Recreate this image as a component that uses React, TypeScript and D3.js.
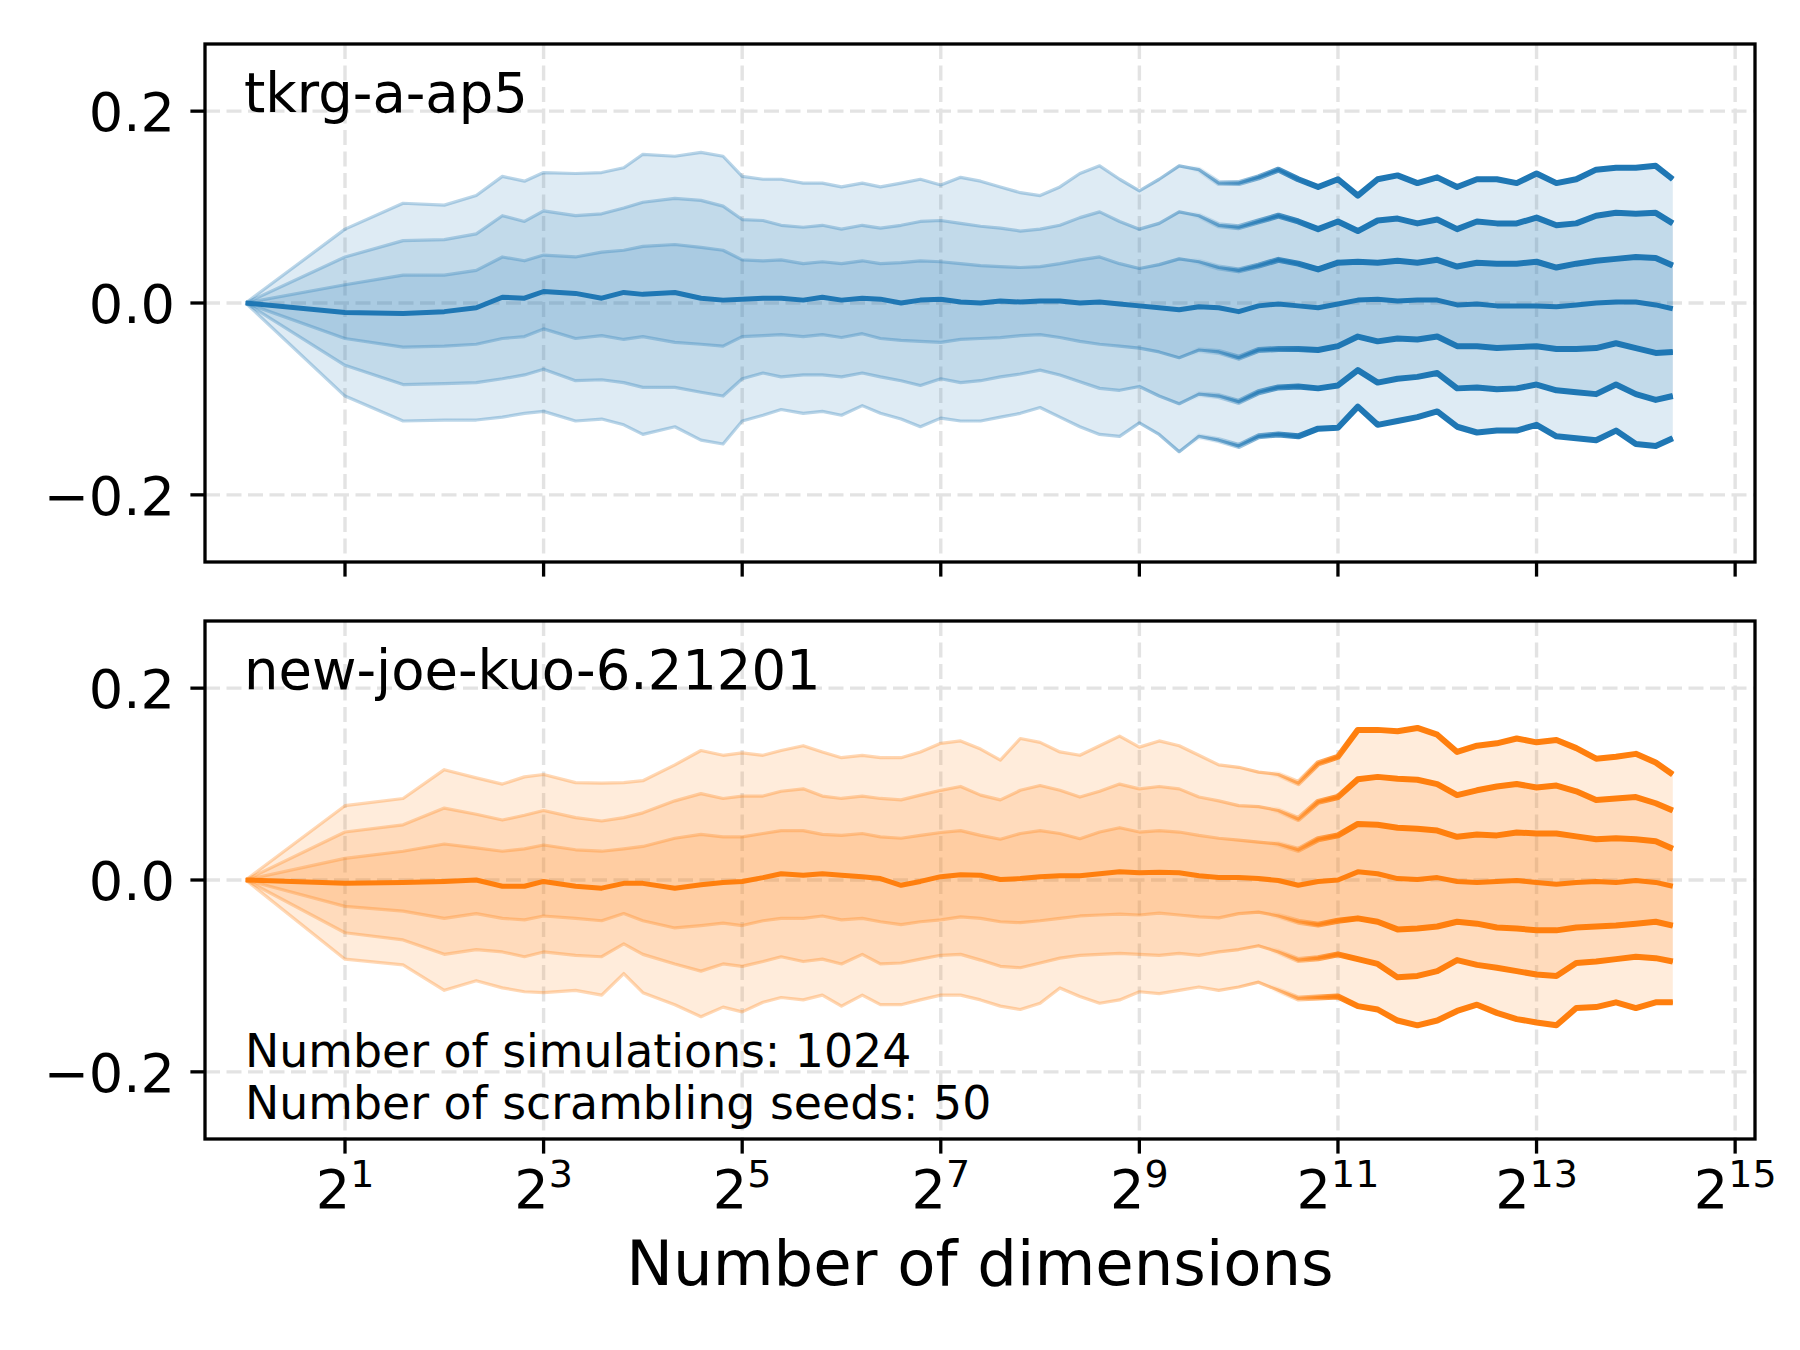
import React from 'react';
import * as d3 from 'd3';

// ---------------- data ----------------
const DIMS = [1, 2, 3, 4, 5, 6, 7, 8, 10, 12, 14, 16, 20, 24, 28, 32,
  37, 42, 49, 56, 64, 74, 84,
  97, 111, 128, 147, 169, 194, 223, 256, 294, 338, 388, 446, 512, 588, 676, 776, 891, 1024, 1176, 1351, 1552, 1783, 2048, 2353, 2702, 3104, 3566, 4096, 4705, 5405, 6208, 7132, 8192, 9410, 10809, 12417, 14263, 16384, 18820,
  21201];

const TKRG_U3 = [0, 0.077, 0.104, 0.102, 0.112, 0.132, 0.127, 0.136, 0.135, 0.136, 0.141, 0.155, 0.153, 0.157, 0.153, 0.132,
  0.129, 0.129, 0.125, 0.125, 0.121, 0.125, 0.121,
  0.125, 0.129, 0.123, 0.131, 0.127, 0.121, 0.115, 0.112, 0.121, 0.135, 0.143, 0.129, 0.117, 0.129, 0.143, 0.139, 0.125, 0.125, 0.131, 0.139, 0.129, 0.121, 0.129, 0.112, 0.129, 0.133, 0.125, 0.131, 0.121, 0.129, 0.129, 0.125, 0.135, 0.125, 0.129, 0.139, 0.141, 0.141, 0.143,
  0.129];
const TKRG_U2 = [0, 0.048, 0.065, 0.066, 0.072, 0.091, 0.085, 0.096, 0.091, 0.093, 0.099, 0.105, 0.109, 0.107, 0.101, 0.087,
  0.086, 0.081, 0.079, 0.081, 0.077, 0.081, 0.078,
  0.081, 0.085, 0.086, 0.083, 0.080, 0.078, 0.075, 0.077, 0.081, 0.089, 0.095, 0.085, 0.077, 0.083, 0.095, 0.091, 0.081, 0.079, 0.085, 0.091, 0.085, 0.077, 0.085, 0.075, 0.086, 0.088, 0.083, 0.087, 0.077, 0.085, 0.083, 0.083, 0.089, 0.081, 0.083, 0.091, 0.094, 0.093, 0.094,
  0.083];
const TKRG_U1 = [0, 0.019, 0.029, 0.029, 0.034, 0.048, 0.044, 0.050, 0.048, 0.053, 0.055, 0.059, 0.061, 0.058, 0.055, 0.045,
  0.044, 0.045, 0.041, 0.043, 0.041, 0.044, 0.041,
  0.042, 0.044, 0.043, 0.041, 0.039, 0.038, 0.037, 0.038, 0.041, 0.045, 0.048, 0.041, 0.036, 0.040, 0.046, 0.043, 0.037, 0.034, 0.039, 0.045, 0.041, 0.035, 0.042, 0.043, 0.042, 0.044, 0.042, 0.045, 0.038, 0.042, 0.041, 0.041, 0.043, 0.037, 0.041, 0.044, 0.046, 0.048, 0.047,
  0.039];
const TKRG_M = [0, -0.010, -0.011, -0.009, -0.005, 0.006, 0.005, 0.012, 0.010, 0.005, 0.011, 0.009, 0.011, 0.005, 0.003, 0.004,
  0.005, 0.005, 0.003, 0.006, 0.003, 0.005, 0.004,
  0.000, 0.003, 0.004, 0.001, 0.000, 0.002, 0.001, 0.002, 0.002, 0.000, 0.001, -0.001, -0.003, -0.005, -0.007, -0.004, -0.005, -0.009, -0.003, -0.001, -0.003, -0.005, -0.001, 0.003, 0.004, 0.002, 0.003, 0.003, -0.002, -0.001, -0.003, -0.003, -0.003, -0.004, -0.002, 0.000, 0.001, 0.001, -0.002,
  -0.006];
const TKRG_D1 = [0, -0.037, -0.046, -0.045, -0.043, -0.037, -0.035, -0.027, -0.037, -0.034, -0.038, -0.035, -0.041, -0.043, -0.045, -0.035,
  -0.034, -0.033, -0.035, -0.033, -0.036, -0.032, -0.037,
  -0.039, -0.040, -0.041, -0.038, -0.037, -0.036, -0.034, -0.033, -0.036, -0.040, -0.043, -0.045, -0.047, -0.051, -0.057, -0.049, -0.051, -0.057, -0.049, -0.048, -0.048, -0.049, -0.045, -0.035, -0.040, -0.037, -0.038, -0.035, -0.045, -0.045, -0.047, -0.046, -0.045, -0.048, -0.048, -0.047, -0.042, -0.047, -0.052,
  -0.051];
const TKRG_D2 = [0, -0.065, -0.085, -0.084, -0.083, -0.079, -0.075, -0.069, -0.081, -0.080, -0.083, -0.088, -0.088, -0.093, -0.097, -0.079,
  -0.073, -0.077, -0.075, -0.075, -0.077, -0.073, -0.077,
  -0.081, -0.086, -0.079, -0.083, -0.081, -0.077, -0.074, -0.070, -0.075, -0.082, -0.089, -0.091, -0.087, -0.097, -0.105, -0.095, -0.097, -0.103, -0.093, -0.088, -0.087, -0.089, -0.086, -0.070, -0.083, -0.079, -0.077, -0.073, -0.089, -0.088, -0.090, -0.089, -0.085, -0.091, -0.093, -0.095, -0.085, -0.095, -0.101,
  -0.097];
const TKRG_D3 = [0, -0.097, -0.123, -0.122, -0.122, -0.119, -0.115, -0.113, -0.123, -0.121, -0.127, -0.137, -0.129, -0.143, -0.147, -0.123,
  -0.117, -0.111, -0.115, -0.113, -0.117, -0.107, -0.115,
  -0.121, -0.129, -0.120, -0.123, -0.123, -0.119, -0.115, -0.109, -0.119, -0.129, -0.137, -0.139, -0.125, -0.137, -0.155, -0.139, -0.143, -0.149, -0.139, -0.137, -0.139, -0.131, -0.130, -0.108, -0.127, -0.123, -0.119, -0.113, -0.129, -0.135, -0.133, -0.133, -0.127, -0.139, -0.141, -0.143, -0.133, -0.147, -0.149,
  -0.141];

const JK_U3 = [0, 0.0775, 0.085, 0.115, 0.1065, 0.100, 0.1075, 0.110, 0.1015, 0.101, 0.1015, 0.1035, 0.120, 0.135, 0.130, 0.1325,
  0.130, 0.135, 0.140, 0.1335, 0.1275, 0.130, 0.1275,
  0.1275, 0.1335, 0.1425, 0.145, 0.1365, 0.125, 0.1475, 0.1435, 0.1335, 0.130, 0.140, 0.150, 0.1385, 0.145, 0.140, 0.130, 0.120, 0.1175, 0.1125, 0.110, 0.101, 0.1215, 0.1285, 0.1565, 0.1565, 0.155, 0.1585, 0.1515, 0.1335, 0.140, 0.1425, 0.1475, 0.1435, 0.146, 0.1375, 0.1265, 0.1285, 0.1315, 0.1225,
  0.110];
const JK_U2 = [0, 0.050, 0.0575, 0.075, 0.0685, 0.0625, 0.0675, 0.0725, 0.065, 0.0615, 0.065, 0.070, 0.0825, 0.090, 0.085, 0.0875,
  0.0875, 0.0925, 0.095, 0.0875, 0.085, 0.0875, 0.085,
  0.0835, 0.0885, 0.0935, 0.0975, 0.0885, 0.0835, 0.0935, 0.0985, 0.0935, 0.0865, 0.0925, 0.100, 0.095, 0.0975, 0.095, 0.0865, 0.0825, 0.0775, 0.0765, 0.0725, 0.0635, 0.0815, 0.0865, 0.105, 0.1075, 0.1055, 0.1045, 0.100, 0.0885, 0.0935, 0.0975, 0.100, 0.0965, 0.0985, 0.0925, 0.0835, 0.085, 0.0865, 0.080,
  0.0725];
const JK_U1 = [0, 0.0225, 0.030, 0.0375, 0.0335, 0.030, 0.0325, 0.0365, 0.0315, 0.030, 0.0325, 0.035, 0.0435, 0.0475, 0.045, 0.045,
  0.0485, 0.0515, 0.0515, 0.0475, 0.0465, 0.0485, 0.045,
  0.0435, 0.0465, 0.0495, 0.0515, 0.0465, 0.0425, 0.0485, 0.0515, 0.0485, 0.043, 0.050, 0.0545, 0.050, 0.0515, 0.050, 0.0465, 0.0435, 0.0415, 0.0395, 0.0375, 0.0315, 0.0425, 0.0465, 0.0585, 0.0575, 0.0545, 0.0535, 0.0515, 0.045, 0.0475, 0.0465, 0.0495, 0.0485, 0.0485, 0.0455, 0.0425, 0.0435, 0.0425, 0.0405,
  0.0325];
const JK_M = [0, -0.0035, -0.0025, -0.0015, 0.000, -0.0065, -0.0065, -0.0015, -0.0065, -0.0085, -0.0035, -0.0035, -0.0085, -0.005, -0.0025, -0.0015,
  0.0025, 0.0065, 0.005, 0.0065, 0.005, 0.0035, 0.0015,
  -0.0055, -0.0015, 0.0035, 0.0055, 0.005, 0.0005, 0.0015, 0.0035, 0.0045, 0.0045, 0.0065, 0.0085, 0.0075, 0.008, 0.0075, 0.0045, 0.0025, 0.0025, 0.0015, -0.0005, -0.0055, -0.0015, 0.000, 0.0085, 0.0065, 0.0015, 0.0005, 0.0025, -0.0015, -0.0025, -0.0015, -0.0005, -0.0025, -0.0045, -0.0025, -0.0015, -0.0025, -0.0005, -0.0025,
  -0.0065];
const JK_D1 = [0, -0.0275, -0.0325, -0.040, -0.035, -0.040, -0.0415, -0.0375, -0.040, -0.0425, -0.035, -0.0425, -0.050, -0.0475, -0.045, -0.0475,
  -0.0425, -0.040, -0.040, -0.0375, -0.0415, -0.040, -0.0435,
  -0.0465, -0.0435, -0.0415, -0.0385, -0.040, -0.0435, -0.0445, -0.0425, -0.040, -0.0375, -0.0365, -0.0355, -0.0365, -0.0345, -0.0365, -0.0385, -0.0395, -0.035, -0.0335, -0.0375, -0.0435, -0.0465, -0.0425, -0.040, -0.0435, -0.0515, -0.0505, -0.0485, -0.0435, -0.0455, -0.0495, -0.0505, -0.0525, -0.0525, -0.0495, -0.0485, -0.0475, -0.0455, -0.0435,
  -0.0475];
const JK_D2 = [0, -0.055, -0.0625, -0.0775, -0.0725, -0.075, -0.080, -0.075, -0.0785, -0.080, -0.0665, -0.0775, -0.0875, -0.095, -0.0875, -0.090,
  -0.085, -0.080, -0.085, -0.0825, -0.0875, -0.0775, -0.0875,
  -0.0865, -0.0825, -0.0785, -0.0775, -0.0835, -0.090, -0.0915, -0.0865, -0.0815, -0.0785, -0.0775, -0.0765, -0.0775, -0.0785, -0.0765, -0.0785, -0.075, -0.0725, -0.0685, -0.075, -0.0835, -0.0815, -0.0775, -0.0825, -0.0875, -0.1015, -0.100, -0.095, -0.0835, -0.0885, -0.0915, -0.095, -0.0985, -0.100, -0.0865, -0.085, -0.0825, -0.080, -0.0815,
  -0.085];
const JK_D3 = [0, -0.0825, -0.0885, -0.115, -0.105, -0.1125, -0.1165, -0.1175, -0.115, -0.120, -0.0975, -0.1175, -0.130, -0.1425, -0.1325, -0.1375,
  -0.1275, -0.1225, -0.125, -0.120, -0.1315, -0.120, -0.130,
  -0.130, -0.125, -0.120, -0.120, -0.125, -0.1315, -0.135, -0.1285, -0.1125, -0.1215, -0.1285, -0.125, -0.1165, -0.1185, -0.115, -0.1115, -0.115, -0.1115, -0.1065, -0.115, -0.1235, -0.1225, -0.1215, -0.1315, -0.135, -0.1465, -0.1515, -0.1465, -0.1365, -0.130, -0.1385, -0.145, -0.1485, -0.1515, -0.1335, -0.1325, -0.1275, -0.1335, -0.1275,
  -0.1275];

const PANEL_TITLES = ['tkrg-a-ap5', 'new-joe-kuo-6.21201'];
const Y_TICKS = [-0.2, 0.0, 0.2];
const X_TICK_EXPONENTS = [1, 3, 5, 7, 9, 11, 13, 15];
const NOTE_LINES = ['Number of simulations: 1024', 'Number of scrambling seeds: 50'];
const X_LABEL = 'Number of dimensions';

// ---------------- layout ----------------
const W = 1800;
const H = 1350;
const AX_L = 205;
const AX_R = 1755;
const FONT = '"DejaVu Sans", Verdana, sans-serif';
const BLUE = '#1f77b4';
const ORANGE = '#ff7f0e';
const GRID = '#e3e3e3';

const x = d3.scaleLog().base(2).domain([Math.pow(2, -0.41), Math.pow(2, 15.2)]).range([AX_L, AX_R]);

type PanelSpec = {
  top: number;
  bottom: number;
  color: string;
  title: string;
  series: number[][]; // U3,U2,U1,M,D1,D2,D3
  fade: [number, number, number, number]; // log2 positions
  showXLabels: boolean;
  note: boolean;
};

const panels: PanelSpec[] = [
  {
    top: 44, bottom: 562, color: BLUE, title: PANEL_TITLES[0],
    series: [TKRG_U3, TKRG_U2, TKRG_U1, TKRG_M, TKRG_D1, TKRG_D2, TKRG_D3],
    fade: [8.7, 9.8, 10.7, 9.5], showXLabels: false, note: false,
  },
  {
    top: 621, bottom: 1139, color: ORANGE, title: PANEL_TITLES[1],
    series: [JK_U3, JK_U2, JK_U1, JK_M, JK_D1, JK_D2, JK_D3],
    fade: [9.7, 10.6, 11.1, 10.3], showXLabels: true, note: true,
  },
];

function offsetOf(log2v: number) {
  return Math.max(0, Math.min(1, (x(Math.pow(2, log2v)) - AX_L) / (AX_R - AX_L)));
}

function Panel({ p, idx }: { p: PanelSpec; idx: number }) {
  const y = d3.scaleLinear().domain([-0.27, 0.27]).range([p.bottom, p.top]);
  const n = Math.min(DIMS.length, ...p.series.map((s) => s.length));
  const idxs = d3.range(n);
  const [u3, u2, u1, med, d1, d2, d3s] = p.series;

  const area = (lo: number[], hi: number[]) =>
    d3.area<number>().x((i) => x(DIMS[i])).y0((i) => y(lo[i])).y1((i) => y(hi[i]))(idxs) || '';
  const line = (s: number[]) => d3.line<number>().x((i) => x(DIMS[i])).y((i) => y(s[i]))(idxs) || '';

  const gBase = `qbase${idx}`;
  const gOver = `qover${idx}`;
  const quantiles = [u3, u2, u1, d1, d2, d3s];

  return (
    <g>
      <defs>
        <linearGradient id={gBase} gradientUnits="userSpaceOnUse" x1={AX_L} x2={AX_R} y1={0} y2={0}>
          <stop offset={0} stopColor={p.color} stopOpacity={0.3} />
          <stop offset={offsetOf(p.fade[0])} stopColor={p.color} stopOpacity={0.32} />
          <stop offset={offsetOf(p.fade[1])} stopColor={p.color} stopOpacity={0.55} />
          <stop offset={offsetOf(p.fade[2])} stopColor={p.color} stopOpacity={1} />
          <stop offset={1} stopColor={p.color} stopOpacity={1} />
        </linearGradient>
        <linearGradient id={gOver} gradientUnits="userSpaceOnUse" x1={AX_L} x2={AX_R} y1={0} y2={0}>
          <stop offset={0} stopColor={p.color} stopOpacity={0} />
          <stop offset={offsetOf(p.fade[3])} stopColor={p.color} stopOpacity={0} />
          <stop offset={offsetOf(p.fade[2])} stopColor={p.color} stopOpacity={1} />
          <stop offset={1} stopColor={p.color} stopOpacity={1} />
        </linearGradient>
      </defs>

      {/* grid */}
      {Y_TICKS.map((t) => (
        <line key={`gy${t}`} x1={AX_L} x2={AX_R} y1={y(t)} y2={y(t)} stroke={GRID} strokeWidth={3.4} strokeDasharray="15 6.5" />
      ))}
      {X_TICK_EXPONENTS.map((e) => (
        <line key={`gx${e}`} x1={x(Math.pow(2, e))} x2={x(Math.pow(2, e))} y1={p.top} y2={p.bottom} stroke={GRID} strokeWidth={3.4} strokeDasharray="15 6.5" />
      ))}

      {/* bands */}
      <path d={area(d3s, u3)} fill={p.color} fillOpacity={0.15} />
      <path d={area(d2, u2)} fill={p.color} fillOpacity={0.15} />
      <path d={area(d1, u1)} fill={p.color} fillOpacity={0.15} />

      {/* quantile lines */}
      {quantiles.map((s, k) => (
        <path key={`qb${k}`} d={line(s)} fill="none" stroke={`url(#${gBase})`} strokeWidth={3.2} strokeLinejoin="round" />
      ))}
      {quantiles.map((s, k) => (
        <path key={`qo${k}`} d={line(s)} fill="none" stroke={`url(#${gOver})`} strokeWidth={6} strokeLinejoin="round" />
      ))}
      {/* median */}
      <path d={line(med)} fill="none" stroke={p.color} strokeWidth={5} strokeLinejoin="round" />

      {/* spines */}
      <rect x={AX_L} y={p.top} width={AX_R - AX_L} height={p.bottom - p.top} fill="none" stroke="#000" strokeWidth={3.3} />

      {/* y ticks */}
      {Y_TICKS.map((t) => (
        <g key={`yt${t}`}>
          <line x1={AX_L - 14.6} x2={AX_L} y1={y(t)} y2={y(t)} stroke="#000" strokeWidth={3.3} />
          <text x={175} y={y(t) + 20} textAnchor="end" fontSize={54.2} fontFamily={FONT} fill="#000">
            {t === 0 ? '0.0' : t > 0 ? t.toFixed(1) : '\u2212' + Math.abs(t).toFixed(1)}
          </text>
        </g>
      ))}

      {/* x ticks */}
      {X_TICK_EXPONENTS.map((e) => {
        const xx = x(Math.pow(2, e));
        return (
          <g key={`xt${e}`}>
            <line x1={xx} x2={xx} y1={p.bottom} y2={p.bottom + 14.6} stroke="#000" strokeWidth={3.3} />
            {p.showXLabels && (
              <text x={xx} y={p.bottom + 69} textAnchor="middle" fontSize={54.2} fontFamily={FONT} fill="#000">
                <tspan>2</tspan>
                <tspan dy={-21} fontSize={38}>{String(e)}</tspan>
              </text>
            )}
          </g>
        );
      })}

      {/* panel title */}
      <text x={244} y={p.top + 68} fontSize={54.4} fontFamily={FONT} fill="#000">{p.title}</text>

      {p.note && NOTE_LINES.map((s, k) => (
        <text key={`n${k}`} x={245} y={1066.5 + k * 52.7} fontSize={45.8} fontFamily={FONT} fill="#000">{s}</text>
      ))}
    </g>
  );
}

export default function App() {
  return (
    <div style={{ position: 'absolute', left: 0, top: 0, width: W, height: H, background: '#fff' }}>
      <svg width={W} height={H} viewBox={`0 0 ${W} ${H}`} style={{ display: 'block' }}>
        <rect x={0} y={0} width={W} height={H} fill="#fff" />
        {panels.map((p, i) => (
          <Panel key={i} p={p} idx={i} />
        ))}
        <text x={(AX_L + AX_R) / 2} y={1285} textAnchor="middle" fontSize={62.5} fontFamily={FONT} fill="#000">{X_LABEL}</text>
      </svg>
    </div>
  );
}
